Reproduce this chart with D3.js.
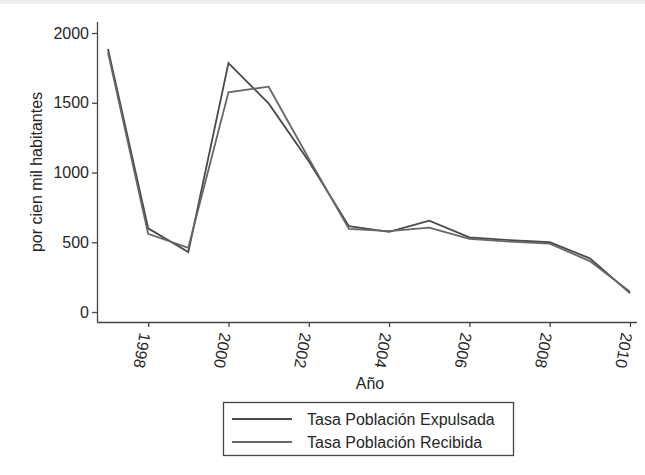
<!DOCTYPE html>
<html>
<head>
<meta charset="utf-8">
<script src="https://cdn.jsdelivr.net/npm/d3@7"></script>
<style>
  body { margin: 0; background: #fff; }
  text { font-family: "Liberation Sans", Arial, sans-serif; fill: #262626; }
</style>
</head>
<body>
<div id="chart"></div>
<script>
"use strict";

var years = [1997, 1998, 1999, 2000, 2001, 2002, 2003, 2004, 2005, 2006, 2007, 2008, 2009, 2010];
var expulsada = [1885, 600, 430, 1785, 1495, 1080, 615, 575, 655, 535, 515, 500, 385, 135];
var recibida = [1860, 560, 460, 1575, 1615, 1100, 595, 580, 605, 525, 505, 490, 365, 145];
var xTicks = [1998, 2000, 2002, 2004, 2006, 2008, 2010];
var yTicks = [0, 500, 1000, 1500, 2000];
var seriesNames = ["Tasa Población Expulsada", "Tasa Población Recibida"];
var seriesColors = ["#4a4a4a", "#676767"];

var width = 645, height = 475;
var svg = d3.select("#chart").append("svg")
  .attr("width", width)
  .attr("height", height);

// faint band at the top like the scan
svg.append("rect").attr("x", 0).attr("y", 0).attr("width", width).attr("height", 4).attr("fill", "#eeeeee");

var x = d3.scaleLinear().domain([1997, 2010]).range([108, 630]);
var y = d3.scaleLinear().domain([0, 2000]).range([312, 33]);

// axes
var xAxis = svg.append("g")
  .attr("transform", "translate(0,322)")
  .call(d3.axisBottom(x).tickValues(xTicks).tickFormat(d3.format("d")).tickSize(5).tickSizeOuter(0));
xAxis.select(".domain").attr("d", "M97,0.5H637");
xAxis.selectAll("text")
  .attr("font-size", 16)
  .attr("text-anchor", "start")
  .attr("dy", null)
  .attr("y", 0)
  .attr("transform", "translate(-9,10) rotate(100)");

var yAxis = svg.append("g")
  .attr("transform", "translate(97,0)")
  .call(d3.axisLeft(y).tickValues(yTicks).tickFormat(d3.format("d")).tickSize(5).tickSizeOuter(0));
yAxis.select(".domain").attr("d", "M0.5,22V322");
yAxis.selectAll("text").attr("font-size", 16);

svg.selectAll(".domain, .tick line").attr("stroke", "#444").attr("stroke-width", 1.3);

svg.append("text")
  .attr("transform", "translate(42,172) rotate(-90)")
  .attr("text-anchor", "middle")
  .attr("font-size", 16)
  .text("por cien mil habitantes");

svg.append("text")
  .attr("x", 370)
  .attr("y", 389)
  .attr("text-anchor", "middle")
  .attr("font-size", 16)
  .text("Año");

// lines
var line = d3.line()
  .x(function(d, i) { return x(years[i]); })
  .y(function(d) { return y(d); });

[expulsada, recibida].forEach(function(values, k) {
  svg.append("path")
    .datum(values)
    .attr("fill", "none")
    .attr("stroke", seriesColors[k])
    .attr("stroke-width", 1.8)
    .attr("stroke-linejoin", "miter")
    .attr("d", line);
});

// legend
var legend = svg.append("g");
legend.append("rect")
  .attr("x", 223.5).attr("y", 402.5)
  .attr("width", 290).attr("height", 53)
  .attr("fill", "#fff")
  .attr("stroke", "#444")
  .attr("stroke-width", 1.3);

seriesNames.forEach(function(name, k) {
  var cy = 419 + k * 23;
  legend.append("line")
    .attr("x1", 232).attr("x2", 292)
    .attr("y1", cy).attr("y2", cy)
    .attr("stroke", seriesColors[k])
    .attr("stroke-width", 1.8);
  legend.append("text")
    .attr("x", 307)
    .attr("y", cy + 5.5)
    .attr("font-size", 16)
    .text(name);
});
</script>
</body>
</html>
